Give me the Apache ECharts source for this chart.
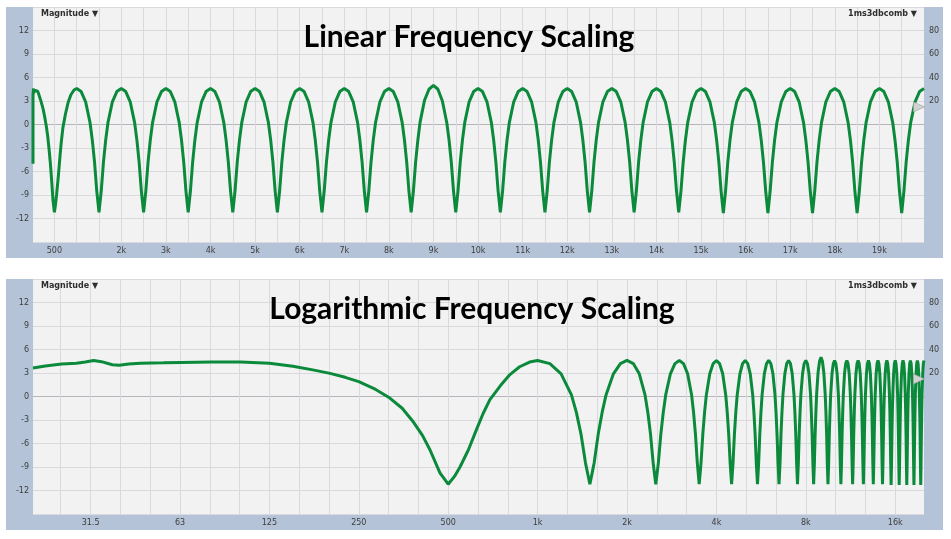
<!DOCTYPE html>
<html>
<head>
<meta charset="utf-8">
<script src="https://cdn.jsdelivr.net/npm/echarts@6/dist/echarts.min.js"></script>
<style>
html,body{margin:0;padding:0;background:#ffffff;}
#c{width:951px;height:539px;}
</style>
</head>
<body>
<div id="c"></div>
<script>
// ---------- data ----------
// low-frequency part of the measured response (Hz, dB)
const lowFreqResponse = [
  [20,3.65],[22,3.9],[25,4.15],[28,4.25],[30,4.4],[32,4.6],[34,4.45],[37,4.05],[39,4.0],
  [42,4.15],[46,4.25],[55,4.3],[63,4.35],[80,4.4],[100,4.4],[125,4.25],[150,3.85],
  [175,3.4],[200,2.95],[225,2.45],[250,1.9],[285,0.9],[318,-0.2],[350,-1.5],[380,-3.15],
  [410,-5.0],[434,-6.8],[469,-9.75],[500,-11.2],[525,-10.2],[548,-9.0],[585,-6.8],
  [623,-4.2],[655,-2.2],[691,-0.4],[750,1.4],[807,2.8],[870,3.8],[940,4.4],[1000,4.6]
];
// comb part of the measured response, 1 kHz to 20 kHz (Hz, dB)
const combResponse = [
  [1100,4.2],[1200,2.9],[1300,0.2],[1350,-2.0],[1400,-4.8],[1450,-8.5],[1500,-11.2],[1550,-8.5],[1600,-4.8],[1650,-2.0],[1700,0.2],[1800,2.9],[1900,4.2],[2000,4.6],
  [2100,4.2],[2200,2.9],[2300,0.2],[2350,-2.0],[2400,-4.8],[2450,-8.5],[2500,-11.2],[2550,-8.5],[2600,-4.8],[2650,-2.0],[2700,0.2],[2800,2.9],[2900,4.2],[3000,4.6],
  [3100,4.2],[3200,2.9],[3300,0.2],[3350,-2.0],[3400,-4.8],[3450,-8.5],[3500,-11.2],[3550,-8.5],[3600,-4.8],[3650,-2.0],[3700,0.2],[3800,2.9],[3900,4.2],[4000,4.6],
  [4100,4.2],[4200,2.9],[4300,0.2],[4350,-2.0],[4400,-4.8],[4450,-8.5],[4500,-11.2],[4550,-8.5],[4600,-4.8],[4650,-2.0],[4700,0.2],[4800,2.9],[4900,4.2],[5000,4.6],
  [5100,4.2],[5200,2.9],[5300,0.2],[5350,-2.0],[5400,-4.8],[5450,-8.5],[5500,-11.2],[5550,-8.5],[5600,-4.8],[5650,-2.0],[5700,0.2],[5800,2.9],[5900,4.2],[6000,4.6],
  [6100,4.2],[6200,2.9],[6300,0.2],[6350,-2.0],[6400,-4.8],[6450,-8.5],[6500,-11.2],[6550,-8.5],[6600,-4.8],[6650,-2.0],[6700,0.2],[6800,2.9],[6900,4.2],[7000,4.6],
  [7100,4.2],[7200,2.9],[7300,0.2],[7350,-2.0],[7400,-4.8],[7450,-8.5],[7500,-11.2],[7550,-8.5],[7600,-4.8],[7650,-2.0],[7700,0.2],[7800,2.9],[7900,4.2],[8000,4.6],
  [8100,4.2],[8200,2.9],[8300,0.2],[8350,-2.0],[8400,-4.8],[8450,-8.5],[8500,-11.2],[8550,-8.5],[8600,-4.8],[8650,-2.0],[8700,0.3],[8800,3.1],[8900,4.5],[9000,5.0],
  [9100,4.5],[9200,3.0],[9300,0.2],[9350,-2.0],[9400,-4.8],[9450,-8.5],[9500,-11.2],[9550,-8.5],[9600,-4.8],[9650,-2.0],[9700,0.2],[9800,2.9],[9900,4.2],[10000,4.6],
  [10100,4.2],[10200,2.9],[10300,0.2],[10350,-2.0],[10400,-4.8],[10450,-8.5],[10500,-11.2],[10550,-8.5],[10600,-4.8],[10650,-2.0],[10700,0.2],[10800,2.9],[10900,4.2],[11000,4.6],
  [11100,4.2],[11200,2.9],[11300,0.2],[11350,-2.0],[11400,-4.8],[11450,-8.5],[11500,-11.2],[11550,-8.5],[11600,-4.8],[11650,-2.0],[11700,0.2],[11800,2.9],[11900,4.2],[12000,4.6],
  [12100,4.2],[12200,2.9],[12300,0.2],[12350,-2.0],[12400,-4.8],[12450,-8.5],[12500,-11.2],[12550,-8.5],[12600,-4.8],[12650,-2.0],[12700,0.2],[12800,2.9],[12900,4.2],[13000,4.6],
  [13100,4.2],[13200,2.9],[13300,0.2],[13350,-2.0],[13400,-4.8],[13450,-8.5],[13500,-11.2],[13550,-8.5],[13600,-4.8],[13650,-2.0],[13700,0.2],[13800,2.9],[13900,4.2],[14000,4.6],
  [14100,4.2],[14200,2.9],[14300,0.2],[14350,-2.0],[14400,-4.8],[14450,-8.5],[14500,-11.2],[14550,-8.5],[14600,-4.8],[14650,-2.0],[14700,0.2],[14800,2.9],[14900,4.2],[15000,4.6],
  [15100,4.2],[15200,2.9],[15300,0.2],[15350,-2.0],[15400,-4.8],[15450,-8.5],[15500,-11.3],[15550,-8.5],[15600,-4.8],[15650,-2.0],[15700,0.2],[15800,2.9],[15900,4.2],[16000,4.6],
  [16100,4.2],[16200,2.9],[16300,0.2],[16350,-2.0],[16400,-4.8],[16450,-8.5],[16500,-11.3],[16550,-8.5],[16600,-4.8],[16650,-2.0],[16700,0.2],[16800,2.9],[16900,4.2],[17000,4.6],
  [17100,4.2],[17200,2.9],[17300,0.2],[17350,-2.0],[17400,-4.8],[17450,-8.5],[17500,-11.3],[17550,-8.5],[17600,-4.8],[17650,-2.0],[17700,0.2],[17800,2.9],[17900,4.2],[18000,4.6],
  [18100,4.2],[18200,2.9],[18300,0.2],[18350,-2.0],[18400,-4.8],[18450,-8.5],[18500,-11.3],[18550,-8.5],[18600,-4.8],[18650,-2.0],[18700,0.2],[18800,2.9],[18900,4.2],[19000,4.6],
  [19100,4.2],[19200,2.9],[19300,0.2],[19350,-2.0],[19400,-4.8],[19450,-8.5],[19500,-11.3],[19550,-8.5],[19600,-4.8],[19650,-2.0],[19700,0.2],[19800,2.9],[19900,4.2],[20000,4.6]
];
// first bin drawn at the left edge of the linear view
const linearEdgePoint = [[20,-5.0]];

// axis ticks / labels
const linearGridHz = [500,1000,1500,2000,2500,3000,3500,4000,4500,5000,5500,6000,6500,7000,7500,8000,8500,9000,9500,10000,
  10500,11000,11500,12000,12500,13000,13500,14000,14500,15000,15500,16000,16500,17000,17500,18000,18500,19000,19500];
const linearLabelHz = [500,2000,3000,4000,5000,6000,7000,8000,9000,10000,11000,12000,13000,14000,15000,16000,17000,18000,19000];
const logGridHz = [24.8,31.25,39.37,49.61,62.5,78.75,99.21,125,157.49,198.43,250,314.98,396.85,500,629.96,793.7,
  1000,1259.9,1587.4,2000,2519.8,3174.8,4000,5039.7,6349.6,8000,10079,12699,16000];
const logLabelHz = [31.25,62.5,125,250,500,1000,2000,4000,8000,16000];
const logLabelText = ['31.5','63','125','250','500','1k','2k','4k','8k','16k'];
const rightAxisLabels = [20,40,60,80];
const markerDb = 2.25;
const leftTitle = 'Magnitude \u25BC';
const rightTitle = '1ms3dbcomb \u25BC';
const panelTitles = ['Linear Frequency Scaling','Logarithmic Frequency Scaling'];

// ---------- chart ----------
const chart = echarts.init(document.getElementById('c'), null, {renderer:'canvas'});
const band = '#b4c3d7';
const plotBg = '#f2f2f2';
const gridCol = '#d9d9de';
const zeroCol = '#b5b5bb';
const green = '#0a8a3a';
const labelFont = {fontFamily:'DejaVu Sans', fontSize:8, color:'#3c3c3c'};

const responseAll = lowFreqResponse.concat(combResponse);
const linearData = linearEdgePoint.concat(responseAll);
const logData = responseAll;

function yLeft(gi){
  return {
    type:'value', gridIndex:gi, min:-15, max:15, interval:3,
    axisLine:{show:false}, axisTick:{show:false},
    axisLabel:Object.assign({margin:4, formatter:v => (Math.abs(v) === 15 ? '' : String(v))}, labelFont),
    splitLine:{show:true, lineStyle:{width:1, color:[gridCol,gridCol,gridCol,gridCol,gridCol,zeroCol,gridCol,gridCol,gridCol,gridCol,gridCol]}}
  };
}
function yRight(gi){
  return {
    type:'value', gridIndex:gi, position:'right', min:-100, max:100, interval:20,
    axisLine:{show:false}, axisTick:{show:false}, splitLine:{show:false},
    axisLabel:Object.assign({margin:5, formatter:v => (rightAxisLabels.indexOf(v) >= 0 ? String(v) : '')}, labelFont)
  };
}
function linFmt(v){ return v < 1000 ? String(v) : (v/1000) + 'k'; }
function logFmt(v){
  for (let i = 0; i < logLabelHz.length; i++) {
    if (Math.abs(Math.log(v / logLabelHz[i])) < 0.01) return logLabelText[i];
  }
  return '';
}
function marker(){
  return {
    silent:true, animation:false, label:{show:false},
    data:[{coord:[20000, markerDb], symbol:'triangle', symbolRotate:-90, symbolSize:[10,11], symbolOffset:[-5,0],
      itemStyle:{color:'#d2d2d2', borderColor:'#9c9c9c', borderWidth:0.6}}]
  };
}

const panelTop = [7, 279];
const graphics = [];
panelTop.forEach((t, i) => {
  graphics.push({type:'rect', z:0, shape:{x:6, y:t, width:27, height:251}, style:{fill:band}});
  graphics.push({type:'rect', z:0, shape:{x:33, y:t+235, width:910, height:16}, style:{fill:band}});
  graphics.push({type:'rect', z:0, shape:{x:924, y:t, width:19, height:235}, style:{fill:band}});
  graphics.push({type:'text', z:100, x:41, y:t+7, style:{text:leftTitle, fill:'#2e2e2e', font:'bold 8px "DejaVu Sans"', verticalAlign:'middle', align:'left'}});
  graphics.push({type:'text', z:100, x:917, y:t+7, style:{text:rightTitle, fill:'#2e2e2e', font:'bold 8px "DejaVu Sans"', verticalAlign:'middle', align:'right'}});
  graphics.push({type:'text', z:100, x:i === 0 ? 469 : 472, y:t+30, style:{text:panelTitles[i], fill:'#000000', font:'bold 30px Lato', verticalAlign:'middle', align:'center'}});
});

const option = {
  animation:false,
  backgroundColor:'#ffffff',
  grid:[
    {left:33, right:27, top:7, height:235, show:true, backgroundColor:plotBg, borderWidth:0, containLabel:false},
    {left:33, right:27, top:279, height:235, show:true, backgroundColor:plotBg, borderWidth:0, containLabel:false}
  ],
  xAxis:[
    {type:'value', gridIndex:0, min:20, max:20000,
     axisLine:{show:false},
     axisTick:{show:false, customValues:linearGridHz},
     axisLabel:Object.assign({margin:5, customValues:linearLabelHz, formatter:linFmt}, labelFont),
     splitLine:{show:true, lineStyle:{color:gridCol, width:1}}},
    {type:'log', logBase:10, gridIndex:1, min:20, max:20000,
     axisLine:{show:false},
     axisTick:{show:false, customValues:logGridHz},
     axisLabel:Object.assign({margin:5, customValues:logLabelHz, formatter:logFmt}, labelFont),
     splitLine:{show:true, lineStyle:{color:gridCol, width:1}}}
  ],
  yAxis:[yLeft(0), yRight(0), yLeft(1), yRight(1)],
  series:[
    {type:'line', xAxisIndex:0, yAxisIndex:0, data:linearData, showSymbol:false, symbol:'none',
     lineStyle:{color:green, width:3}, clip:true, markPoint:marker()},
    {type:'line', xAxisIndex:1, yAxisIndex:2, data:logData, showSymbol:false, symbol:'none',
     lineStyle:{color:green, width:3}, clip:true, markPoint:marker()}
  ],
  graphic:graphics
};
chart.setOption(option);
</script>
</body>
</html>
